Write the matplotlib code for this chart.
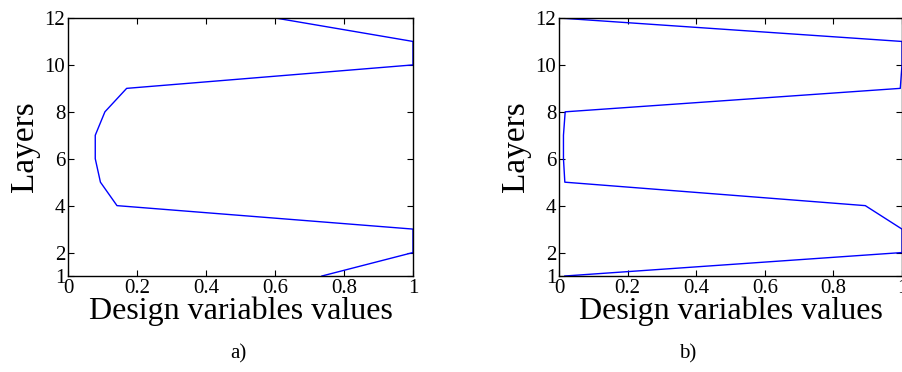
import matplotlib
matplotlib.use("Agg")
import matplotlib.pyplot as plt

# layer index (y) and design variable value (x) for each panel
layers = [1, 2, 3, 4, 5, 6, 7, 8, 9, 10, 11, 12]
values_a = [0.736, 1.0, 1.0, 0.142, 0.094, 0.079, 0.079, 0.107, 0.170, 1.0, 1.0, 0.601]
values_b = [0.017, 1.0, 1.0, 0.893, 0.017, 0.013, 0.013, 0.018, 0.995, 1.0, 1.0, 0.0]
x_ticks = [0, 0.2, 0.4, 0.6, 0.8, 1]
x_tick_labels = ["0", "0.2", "0.4", "0.6", "0.8", "1"]
y_ticks = [1, 2, 4, 6, 8, 10, 12]
panel_tags = ["a)", "b)"]

plt.rcParams["font.family"] = ["Liberation Serif", "DejaVu Serif"]

fig = plt.figure(figsize=(9.02, 3.72), dpi=100)
axes_boxes = [[68 / 902, 96 / 372, 345 / 902, 258 / 372],
              [559 / 902, 96 / 372, 343 / 902, 258 / 372]]
tag_x = [238 / 902, 688 / 902]

for box, vals, tag, tx in zip(axes_boxes, [values_a, values_b], panel_tags, tag_x):
    ax = fig.add_axes(box)
    ax.plot(vals, layers, color="#0000ff", linewidth=1.0)
    ax.set_xlim(0, 1)
    ax.set_ylim(1, 12)
    ax.set_xticks(x_ticks)
    ax.set_xticklabels(x_tick_labels)
    ax.set_yticks(y_ticks)
    ax.tick_params(direction="in", top=True, right=True, length=4, width=0.8,
                   labelsize=15, pad=2)
    for s in ax.spines.values():
        s.set_linewidth(1.0)
    ax.set_xlabel("Design variables values", fontsize=23, labelpad=-1)
    ax.set_ylabel("Layers", fontsize=24, labelpad=3)
    fig.text(tx, 1 - 354 / 372, tag, fontsize=15, ha="center", va="center")

fig.savefig("out.png", dpi=100)
